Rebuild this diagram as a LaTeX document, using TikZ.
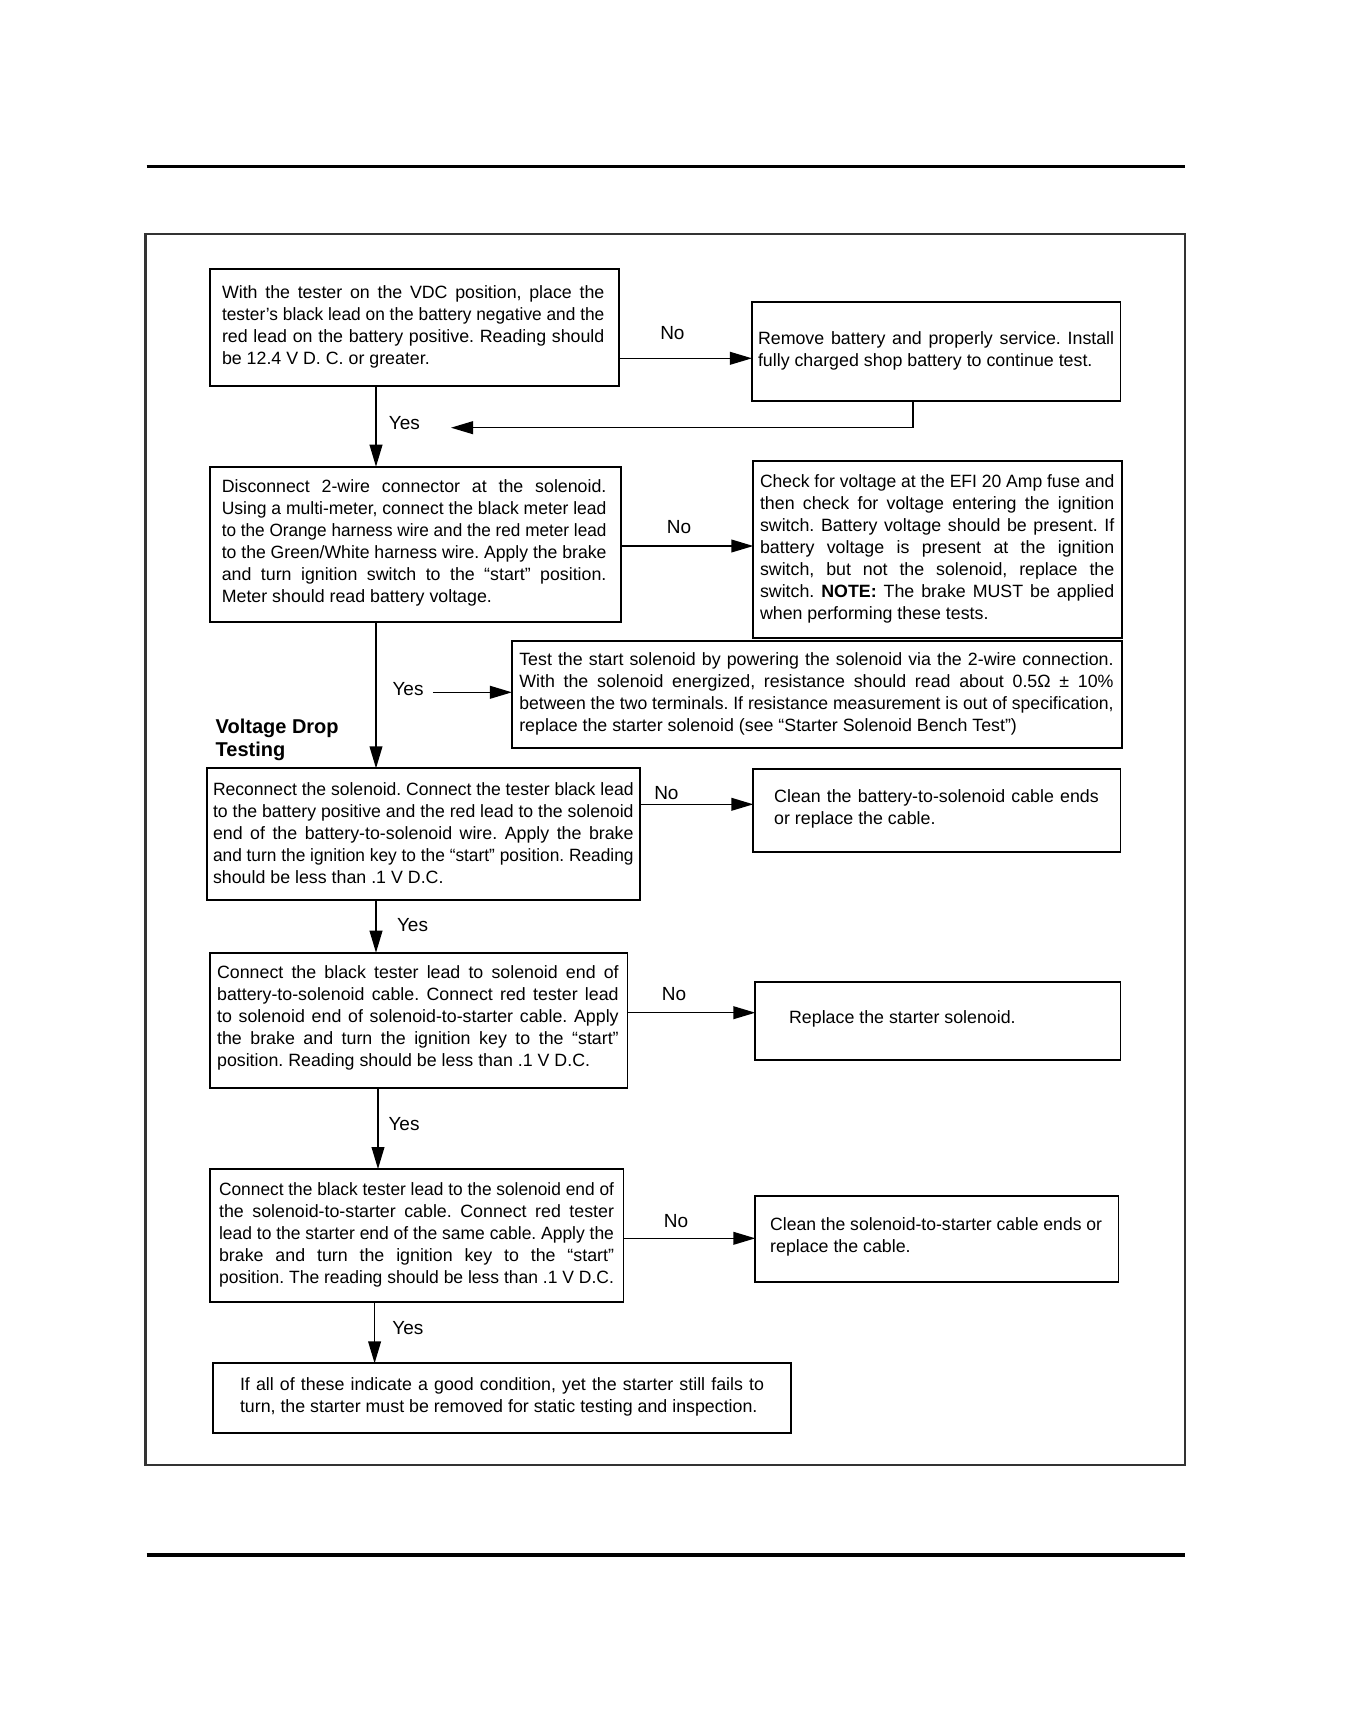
\documentclass[tikz,border=0pt]{standalone}
\usepackage{fontspec}
\usepackage{graphicx}
\setmainfont{Liberation Sans}
\usetikzlibrary{arrows.meta}
\frenchspacing
\newlength\lw
\newlength\natw
\newcommand\JJ[1]{\hbox{\settowidth\natw{#1}\ifdim\natw>\lw\resizebox{\lw}{\height}{#1}\else\makebox[\lw][s]{#1}\fi}}
\newcommand\LL[1]{\hbox{#1}}
\newcommand\para[2]{\vtop{\fontsize{8.9}{11}\selectfont\setlength\lw{#1}#2}}
\tikzset{
  box/.style={draw, line width=0.9pt, inner sep=0pt, outer sep=0pt, anchor=north west},
  txt/.style={inner sep=0pt, outer sep=0pt, anchor=base west},
  arr/.style={line width=0.7pt, -{Triangle[length=11pt,width=6.4pt]}},
  lbl/.style={inner sep=0pt, font=\fontsize{9.5}{11}\selectfont},
  rule/.style={line width=1.6pt},
  frame/.style={line width=1.1pt, draw=black!80},
}
\begin{document}
\begin{tikzpicture}[x=0.5pt,y=-0.5pt]
\useasboundingbox (0,0) rectangle (1368,1728);
\fill[white] (0,0) rectangle (1368,1728);

% page rules and frame
\draw[rule] (146.7,166.7) -- (1185,166.7);
\draw[rule] (146.7,1555) -- (1185,1555);
\draw[frame] (145.4,234.3) rectangle (1185.3,1465);

% boxes
\node[box, minimum width=204.55pt, minimum height=58.5pt]  (b1) at (209.6,269.3) {};
\node[box, minimum width=184.25pt, minimum height=49.65pt] (r1) at (751.9,301.7) {};
\node[box, minimum width=205.55pt, minimum height=77.8pt]  (b2) at (209.6,466.7) {};
\node[box, minimum width=184.2pt,  minimum height=88.35pt] (r2) at (753.3,461) {};
\node[box, minimum width=304.9pt,  minimum height=53.65pt] (ts) at (511.9,641) {};
\node[box, minimum width=216.65pt, minimum height=66pt]    (b3) at (207,768.3) {};
\node[box, minimum width=183.55pt, minimum height=41.35pt] (r3) at (753.3,769) {};
\node[box, minimum width=208.95pt, minimum height=67.8pt]  (b4) at (209.6,952.7) {};
\node[box, minimum width=182.55pt, minimum height=39.15pt] (r4) at (755.3,981.7) {};
\node[box, minimum width=206.9pt,  minimum height=66.5pt]  (b5) at (209.6,1169) {};
\node[box, minimum width=181.55pt, minimum height=43pt]    (r5) at (755.3,1195.7) {};
\node[box, minimum width=289.05pt, minimum height=35pt]    (b6) at (213,1363.3) {};

% texts
\node[txt] (t1) at (222,298.3) {\para{191.2pt}{%
\JJ{With the tester on the VDC position, place the}%
\JJ{tester's black lead on the battery negative and the}%
\JJ{red lead on the battery positive. Reading should}%
\LL{be 12.4 V D. C. or greater.}}};

\node[txt] (tr1) at (758,344.6) {\para{178.1pt}{%
\JJ{Remove battery and properly service. Install}%
\LL{fully charged shop battery to continue test.}}};

\node[txt] (t2) at (221.8,492.5) {\para{192.35pt}{%
\JJ{Disconnect 2-wire connector at the solenoid.}%
\JJ{Using a multi-meter, connect the black meter lead}%
\JJ{to the Orange harness wire and the red meter lead}%
\JJ{to the Green/White harness wire. Apply the brake}%
\JJ{and turn ignition switch to the “start” position.}%
\LL{Meter should read battery voltage.}}};

\node[txt] (tr2) at (760,487.8) {\para{177.15pt}{%
\JJ{Check for voltage at the EFI 20 Amp fuse and}%
\JJ{then check for voltage entering the ignition}%
\JJ{switch. Battery voltage should be present. If}%
\JJ{battery voltage is present at the ignition}%
\JJ{switch, but not the solenoid, replace the}%
\JJ{switch. \textbf{NOTE:} The brake MUST be applied}%
\LL{when performing these tests.}}};

\node[txt] (tts) at (519.3,665.2) {\para{297.15pt}{%
\JJ{Test the start solenoid by powering the solenoid via the 2-wire connection.}%
\JJ{With the solenoid energized, resistance should read about 0.5Ω ± 10\%}%
\JJ{between the two terminals. If resistance measurement is out of specification,}%
\LL{replace the starter solenoid (see “Starter Solenoid Bench Test”)}}};

\node[txt, font=\bfseries\fontsize{10}{11.7}\selectfont] (vd) at (215.7,733.3)
  {\vtop{\hbox{Voltage Drop}\hbox{Testing}}};

\node[txt] (t3) at (213,795.2) {\para{210.3pt}{%
\JJ{Reconnect the solenoid. Connect the tester black lead}%
\JJ{to the battery positive and the red lead to the solenoid}%
\JJ{end of the battery-to-solenoid wire. Apply the brake}%
\JJ{and turn the ignition key to the “start” position. Reading}%
\LL{should be less than .1 V D.C.}}};

\node[txt] (tr3) at (774.2,802.8) {\para{162.3pt}{%
\JJ{Clean the battery-to-solenoid cable ends}%
\LL{or replace the cable.}}};

\node[txt] (t4) at (217.1,978.8) {\para{200.8pt}{%
\JJ{Connect the black tester lead to solenoid end of}%
\JJ{battery-to-solenoid cable. Connect red tester lead}%
\JJ{to solenoid end of solenoid-to-starter cable. Apply}%
\JJ{the brake and turn the ignition key to the “start”}%
\LL{position. Reading should be less than .1 V D.C.}}};

\node[txt] (tr4) at (789.1,1023.4) {\para{180pt}{%
\LL{Replace the starter solenoid.}}};

\node[txt] (t5) at (219.1,1195) {\para{197.45pt}{%
\JJ{Connect the black tester lead to the solenoid end of}%
\JJ{the solenoid-to-starter cable. Connect red tester}%
\JJ{lead to the starter end of the same cable. Apply the}%
\JJ{brake and turn the ignition key to the “start”}%
\JJ{position. The reading should be less than .1 V D.C.}}};

\node[txt] (tr5) at (770.2,1230.8) {\para{165.95pt}{%
\JJ{Clean the solenoid-to-starter cable ends or}%
\LL{replace the cable.}}};

\node[txt] (t6) at (240,1390.3) {\para{262pt}{%
\JJ{If all of these indicate a good condition, yet the starter still fails to}%
\LL{turn, the starter must be removed for static testing and inspection.}}};

% connectors
\draw[arr] (b1.east |- 0,358.3) -- (r1.west |- 0,358.3);
\node[lbl] (n1) at (672.4,333) {No};
\coordinate (ret) at (451,427.7);
\draw[arr] (r1.south -| 912.8,0) |- (ret);
\node[lbl] (y1) at (404.3,423.3) {Yes};
\draw[arr] (b1.south -| 376,0) -- (b2.north -| 376,0);

\draw[arr] (b2.east |- 0,546) -- (r2.west |- 0,546);
\node[lbl] (n2) at (679,527.3) {No};

\coordinate (ys) at (432.8,692.3);
\draw[arr] (ys) -- (ts.west |- ys);
\node[lbl] (y2) at (408,688.8) {Yes};

\draw[arr] (b2.south -| 376,0) -- (b3.north -| 376,0);

\draw[arr] (b3.east |- 0,804.3) -- (r3.west |- 0,804.3);
\node[lbl] (n3) at (666.4,793) {No};
\draw[arr] (b3.south -| 376,0) -- (b4.north -| 376,0);
\node[lbl] (y3) at (412.5,925.5) {Yes};

\draw[arr] (b4.east |- 0,1012.7) -- (r4.west |- 0,1012.7);
\node[lbl] (n4) at (674,993.7) {No};
\draw[arr] (b4.south -| 378,0) -- (b5.north -| 378,0);
\node[lbl] (y4) at (404,1123.7) {Yes};

\draw[arr] (b5.east |- 0,1238.3) -- (r5.west |- 0,1238.3);
\node[lbl] (n5) at (676,1221.3) {No};
\draw[arr] (b5.south -| 374.6,0) -- (b6.north -| 374.6,0);
\node[lbl] (y5) at (407.8,1328) {Yes};
\end{tikzpicture}
\end{document}
